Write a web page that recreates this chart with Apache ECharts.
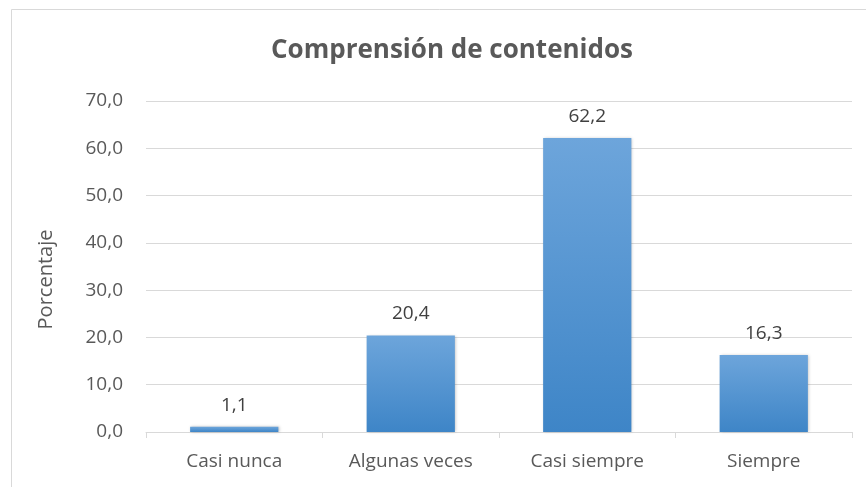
<!DOCTYPE html>
<html><head><meta charset="utf-8">
<script src="https://cdn.jsdelivr.net/npm/echarts@6/dist/echarts.min.js"></script>
<style>html,body{margin:0;padding:0;background:#fff}#c{width:866px;height:487px}</style>
</head><body><div id="c"></div>
<script>
const categories = ['Casi nunca', 'Algunas veces', 'Casi siempre', 'Siempre'];
const values = [1.1, 20.4, 62.2, 16.3];
const titleText = 'Comprensión de contenidos';
const yAxisName = 'Porcentaje';

const fmt = v => v.toFixed(1).replace('.', ',');
const chart = echarts.init(document.getElementById('c'), null, {renderer: 'canvas'});
chart.setOption({
  animation: false,
  backgroundColor: '#fff',
  graphic: [{
    type: 'rect', shape: {x: 11.5, y: 9.5, width: 900, height: 600},
    style: {fill: 'none', stroke: '#d9d9d9', lineWidth: 1}, silent: true, z: -1
  }],
  title: {
    text: titleText, left: 447, top: 33, textAlign: 'center',
    textStyle: {fontFamily: 'Open Sans', fontWeight: 'bold', fontSize: 26, color: '#595959'}
  },
  grid: {left: 146, right: 14, top: 101, bottom: 55, containLabel: false},
  xAxis: {
    type: 'category', data: categories,
    axisLine: {lineStyle: {color: '#d9d9d9'}},
    axisTick: {show: true, length: 6, lineStyle: {color: '#d9d9d9'}},
    axisLabel: {color: '#595959', fontFamily: 'Open Sans', fontSize: 19, margin: 20}
  },
  yAxis: {
    type: 'value', min: 0, max: 70, interval: 10,
    name: yAxisName, nameLocation: 'middle', nameGap: 90, nameRotate: 90,
    nameTextStyle: {color: '#595959', fontFamily: 'Open Sans', fontSize: 20, padding: [0, 26, 0, 0]},
    axisLine: {show: false}, axisTick: {show: false},
    axisLabel: {color: '#595959', fontFamily: 'Open Sans', fontSize: 19, margin: 23, formatter: v => fmt(v)},
    splitLine: {lineStyle: {color: '#d9d9d9'}}
  },
  series: [{
    type: 'bar', data: values, barWidth: '50%',
    itemStyle: {
      color: new echarts.graphic.LinearGradient(0, 0, 0, 1, [
        {offset: 0, color: '#6da5db'}, {offset: 1, color: '#3e85c7'}
      ]),
      shadowColor: 'rgba(0,0,0,0.25)', shadowBlur: 3, shadowOffsetX: 1, shadowOffsetY: 0
    },
    label: {
      show: true, position: 'top', distance: 12,
      color: '#404040', fontFamily: 'Open Sans', fontSize: 19,
      formatter: p => fmt(p.value)
    }
  }]
});
</script></body></html>
